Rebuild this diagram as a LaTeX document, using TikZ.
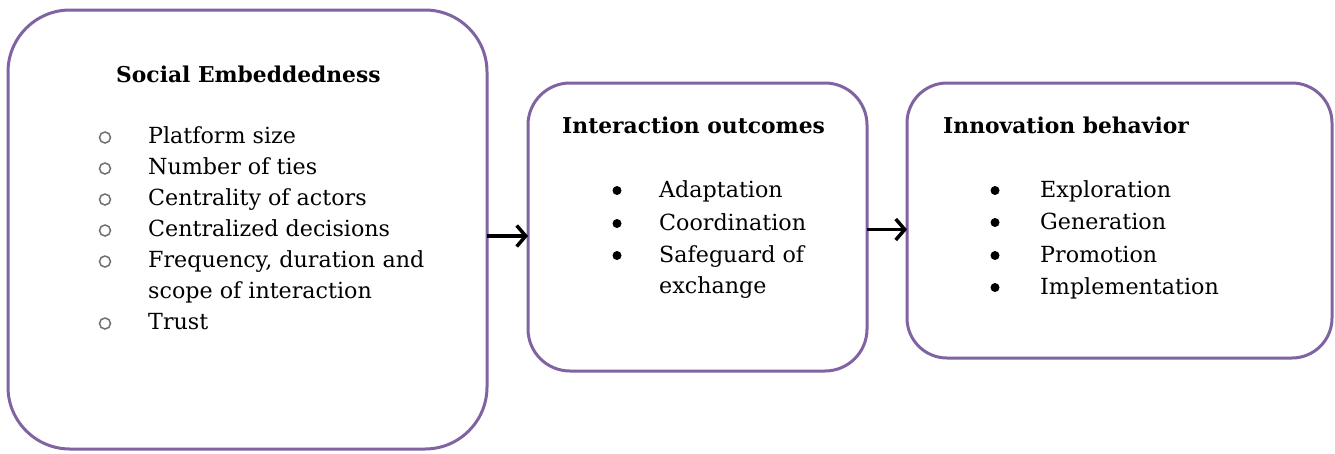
\documentclass[tikz,border=0pt]{standalone}
\usepackage{fontspec}
\setmainfont{DejaVu Serif}
\usetikzlibrary{arrows.meta}
\definecolor{boxpurple}{HTML}{8064A2}
\definecolor{hollow}{HTML}{707070}
\tikzset{
  box/.style={draw=boxpurple, line width=3pt, rounded corners=#1, fill=white, inner sep=0pt, outer sep=0pt},
  title/.style={anchor=base west, inner sep=0pt, font=\fontsize{21.8}{26}\selectfont\bfseries},
  item/.style={anchor=base west, inner sep=0pt, font=\fontsize{22.2}{26}\selectfont},
  arr/.style={line width=3.5pt, -{Straight Barb[length=9pt,width=21pt,line width=3.5pt]}},
  ring/.style={circle, draw=hollow, line width=1.5pt, minimum size=11pt, inner sep=0pt},
  dot/.style={circle, fill=black, minimum size=9pt, inner sep=0pt}
}
\begin{document}
\begin{tikzpicture}[x=1pt,y=-1pt]
\useasboundingbox (0,0) rectangle (1335,453);
% boxes
\node[box=62pt, minimum width=479pt, minimum height=439pt] (b1) at (247.5,229.5) {};
\node[box=42pt, minimum width=339pt, minimum height=288pt] (b2) at (697.5,227) {};
\node[box=40pt, minimum width=425pt, minimum height=275pt] (b3) at (1119.5,220.5) {};
% box 1
\node[title] (t1) at (116,82) {Social Embeddedness};
\foreach \n/\y/\t in {a/143/Platform size, b/174/Number of ties, c/205/Centrality of actors, d/236/Centralized decisions, e/267/{Frequency, duration and}, g/329/Trust}{
  \node[ring] (r\n) at (105,\y-5.5) {};
  \node[item] (i\n) at (148,\y) {\t};
}
\node[item] (if) at (148,298) {scope of interaction};
% box 2
\node[title] (t2) at (562,133) {Interaction outcomes};
\foreach \n/\y/\t in {a/197/Adaptation, b/230/Coordination, c/262/Safeguard of}{
  \node[dot] (d2\n) at (617,\y-6.5) {};
  \node[item] (j\n) at (659,\y) {\t};
}
\node[item] (jd) at (659,293) {exchange};
% box 3
\node[title] (t3) at (943,133) {Innovation behavior};
\foreach \n/\y/\t in {a/197/Exploration, b/229/Generation, c/262/Promotion, d/294/Implementation}{
  \node[dot] (d3\n) at (995,\y-6.5) {};
  \node[item] (k\n) at (1040,\y) {\t};
}
% arrows
\draw[arr] ([yshift=-6.5pt]b1.east) -- ([yshift=-6.5pt]b1.east -| b2.west);
\draw[arr] ([yshift=-2.5pt]b2.east) -- ([yshift=-2.5pt]b2.east -| b3.west);
\end{tikzpicture}
\end{document}
